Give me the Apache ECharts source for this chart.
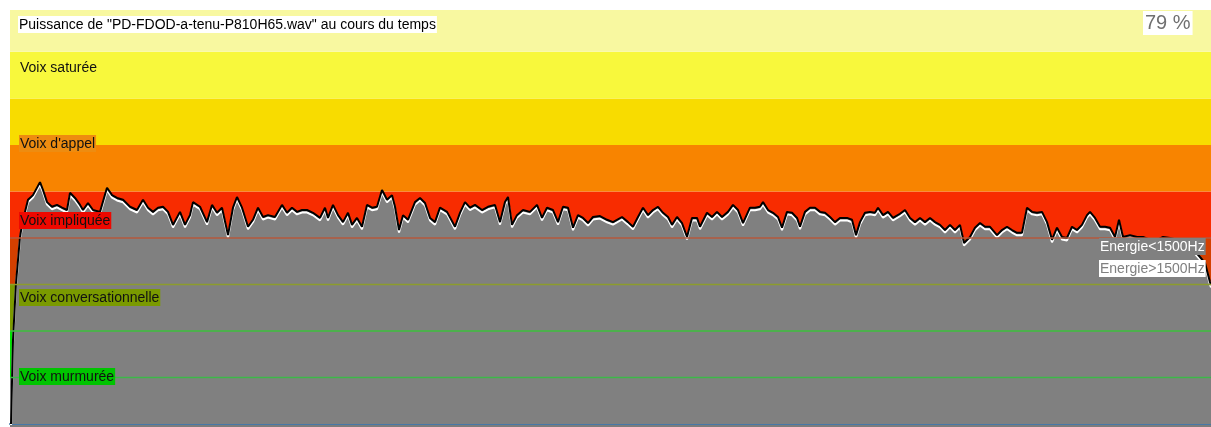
<!DOCTYPE html>
<html>
<head>
<meta charset="utf-8">
<script src="https://cdn.jsdelivr.net/npm/echarts@6/dist/echarts.min.js"></script>
<style>
html,body{margin:0;padding:0;background:#fff;}
#chart{width:1211px;height:427px;}
</style>
</head>
<body>
<div id="chart"></div>
<script>
// time (s)
const times = [
0.01,0.03,0.06,0.10,0.12,0.15,0.18,0.23,0.30,0.33,
0.37,0.42,0.47,0.52,0.57,0.60,0.65,0.70,0.73,0.78,
0.83,0.90,0.97,1.02,1.07,1.13,1.20,1.27,1.33,1.38,
1.43,1.48,1.53,1.58,1.63,1.70,1.75,1.80,1.83,1.90,
1.97,2.02,2.07,2.12,2.18,2.23,2.27,2.32,2.38,2.43,
2.48,2.53,2.58,2.65,2.72,2.77,2.82,2.87,2.92,2.97,
3.03,3.10,3.15,3.18,3.23,3.28,3.33,3.38,3.42,3.47,
3.52,3.57,3.62,3.67,3.72,3.77,3.82,3.85,3.89,3.93,
3.98,4.05,4.10,4.15,4.20,4.25,4.30,4.37,4.45,4.50,
4.55,4.60,4.65,4.72,4.78,4.85,4.90,4.95,4.98,5.02,
5.07,5.13,5.20,5.27,5.32,5.37,5.43,5.48,5.53,5.58,
5.63,5.68,5.73,5.78,5.83,5.90,5.97,6.03,6.12,6.18,
6.23,6.28,6.33,6.38,6.43,6.48,6.53,6.58,6.62,6.67,
6.72,6.77,6.82,6.87,6.90,6.97,7.02,7.07,7.12,7.18,
7.23,7.28,7.33,7.40,7.45,7.50,7.53,7.58,7.63,7.68,
7.72,7.77,7.82,7.87,7.90,7.95,8.00,8.05,8.10,8.15,
8.20,8.25,8.30,8.37,8.42,8.46,8.50,8.55,8.60,8.65,
8.68,8.73,8.78,8.83,8.90,8.95,9.00,9.05,9.10,9.15,
9.20,9.25,9.30,9.35,9.40,9.45,9.50,9.54,9.60,9.65,
9.70,9.75,9.80,9.87,9.92,9.97,10.02,10.07,10.12,10.17,
10.22,10.27,10.32,10.37,10.42,10.47,10.52,10.57,10.62,10.67,
10.72,10.77,10.80,10.85,10.90,10.95,11.00,11.05,11.09,11.13,
11.20,11.27,11.33,11.40,11.47,11.53,11.60,11.67,11.77,11.90,
11.95,12.00,12.01
];
// power level (dB-like units, 10 per voice band)
const power = [
0,18.1,30.3,40.2,42.8,45.6,48.2,49.2,52.0,50.3,
47.7,46.7,47.1,46.5,46.0,49.7,48.6,47.1,46.0,47.5,
46.0,45.6,50.8,49.2,48.6,48.2,46.7,46.0,48.2,46.5,
45.6,46.5,46.7,45.6,42.8,45.6,42.8,44.9,47.7,46.7,
43.4,47.1,45.4,46.5,40.6,46.5,48.8,46.5,42.4,43.9,
46.5,44.5,44.9,44.5,47.1,45.4,46.5,45.6,46.0,46.0,
45.4,44.3,46.5,44.3,47.1,44.9,43.4,45.4,42.8,44.3,
42.4,47.1,46.5,46.7,50.3,48.2,49.2,46.7,41.7,44.9,
43.9,47.7,48.6,47.5,44.3,43.4,46.5,45.6,42.4,45.4,
47.7,46.5,47.1,46.0,46.7,47.1,43.4,47.7,48.8,42.8,
44.9,46.0,45.6,47.1,44.3,46.5,46.0,43.4,46.7,46.5,
42.2,44.9,44.3,43.2,44.5,44.7,43.9,43.4,44.5,43.4,
42.4,44.5,46.5,44.9,46.0,46.7,45.4,44.5,42.8,44.5,
43.2,40.2,44.3,44.3,42.4,45.4,44.5,45.6,44.5,45.6,
47.1,46.0,43.2,46.5,46.5,46.7,47.7,46.0,45.4,44.5,
42.2,45.6,45.4,44.3,42.4,45.6,46.5,46.5,45.6,45.4,
44.5,43.4,44.3,44.3,43.9,40.6,43.4,45.4,45.6,45.4,
46.5,44.9,45.6,44.3,45.2,46.0,44.3,43.4,44.3,43.4,
44.3,43.4,42.8,41.7,42.8,41.7,42.8,38.9,40.2,42.2,
43.2,42.4,42.4,40.6,41.7,42.4,41.7,41.1,41.1,46.5,
45.6,45.4,45.6,43.4,39.6,42.2,40.2,40.0,42.4,41.7,
42.8,44.9,45.6,44.3,42.4,42.4,42.2,40.2,43.9,40.2,
40.6,40.2,40.2,39.6,39.6,40.2,40.0,39.6,39.1,35.9,
34.6,30.5,29.9
];
// voice bands: lower / upper bound
const bandLow  = [0, 10, 20, 30, 40, 50, 60, 70, 80];
const bandHigh = [10, 20, 30, 40, 50, 60, 70, 80, 89];
const bandColors = ['#808080','#00E400','#7C9A00','#D44000','#F82C00','#F88400','#F8DC00','#F8F83C','#F8F8A0'];
const levelLines = [10, 20, 30, 40];
const levelLineColors = ['#3CB848','#3CC03C','#8C9C2C','#B4583C'];
const bandLabels = ['Voix saturée', "Voix d'appel", 'Voix impliquée', 'Voix conversationnelle', 'Voix murmurée'];
const bandLabelBg = [null, '#EE8C10', '#EE0800', '#7A9A00', '#00C400'];
const titleText = 'Puissance de "PD-FDOD-a-tenu-P810H65.wav" au cours du temps';
const percentText = '79 %';
const legendNames = ['Energie<1500Hz', 'Energie>1500Hz'];

const FONT = '"Liberation Sans", Arial, sans-serif';
const chart = echarts.init(document.getElementById('chart'), null, {renderer: 'canvas'});
const xMin = 0, xMax = 12.01;

const labelTops = [59, 135, 212, 289, 368];
const graphics = [
  {type:'rect', shape:{x:10, y:425, width:1201, height:2}, style:{fill:'#7C7C7C'}, silent:true},
  {type:'text', x:18, y:16, z:100, style:{text:titleText, font:'14px ' + FONT, fill:'#000', backgroundColor:'#fff', padding:[2,1,1,1]}},
  {type:'text', x:1143, y:11, z:100, style:{text:percentText, font:'20px ' + FONT, fill:'#707070', backgroundColor:'#fff', padding:[2,2,2,2]}},
  {type:'text', x:1099, y:238, z:100, style:{text:legendNames[0], font:'14px ' + FONT, fill:'#fff', backgroundColor:'#808080', padding:[2,1,1,1]}},
  {type:'text', x:1099, y:260, z:100, style:{text:legendNames[1], font:'14px ' + FONT, fill:'#808080', backgroundColor:'#fff', padding:[2,1,1,1]}}
];
bandLabels.forEach((t, i) => {
  const st = {text:t, font:'14px ' + FONT, fill:'#111', padding:[2,1,1,1]};
  if (bandLabelBg[i]) st.backgroundColor = bandLabelBg[i];
  graphics.push({type:'text', x:19, y:labelTops[i], z:100, style:st});
});

const series = [{
  name: legendNames[0],
  type:'line',
  data: times.map((t, i) => [t, power[i]]),
  symbol:'none',
  z: 3,
  lineStyle:{color:'#000', width:2, shadowColor:'#fff', shadowBlur:0, shadowOffsetY:2.5},
  areaStyle:{color:'#808080', opacity:1, origin:'start'},
  markArea: {
    silent:true, z:1,
    data: bandLow.map((lo, i) => [
      {yAxis: lo, itemStyle:{color: bandColors[i], opacity:1}},
      {yAxis: bandHigh[i]}
    ])
  }
}];
levelLines.forEach((v, i) => {
  series.push({
    type:'line', z:4, silent:true, symbol:'none',
    data:[[xMin, v], [xMax, v]],
    lineStyle:{color: levelLineColors[i], width:1.5}
  });
});

const option = {
  animation: false,
  backgroundColor: '#fff',
  grid: {left:10, right:0, top:10, bottom:3, containLabel:false},
  xAxis: {
    type:'value', min:xMin, max:xMax,
    axisLine:{show:true, lineStyle:{color:'#4678A8', width:2}},
    axisTick:{show:false}, axisLabel:{show:false}, splitLine:{show:false}
  },
  yAxis: {
    type:'value', min:0, max:89,
    axisLine:{show:false}, axisTick:{show:false}, axisLabel:{show:false}, splitLine:{show:false}
  },
  series: series,
  graphic: graphics
};
chart.setOption(option);
</script>
</body>
</html>
